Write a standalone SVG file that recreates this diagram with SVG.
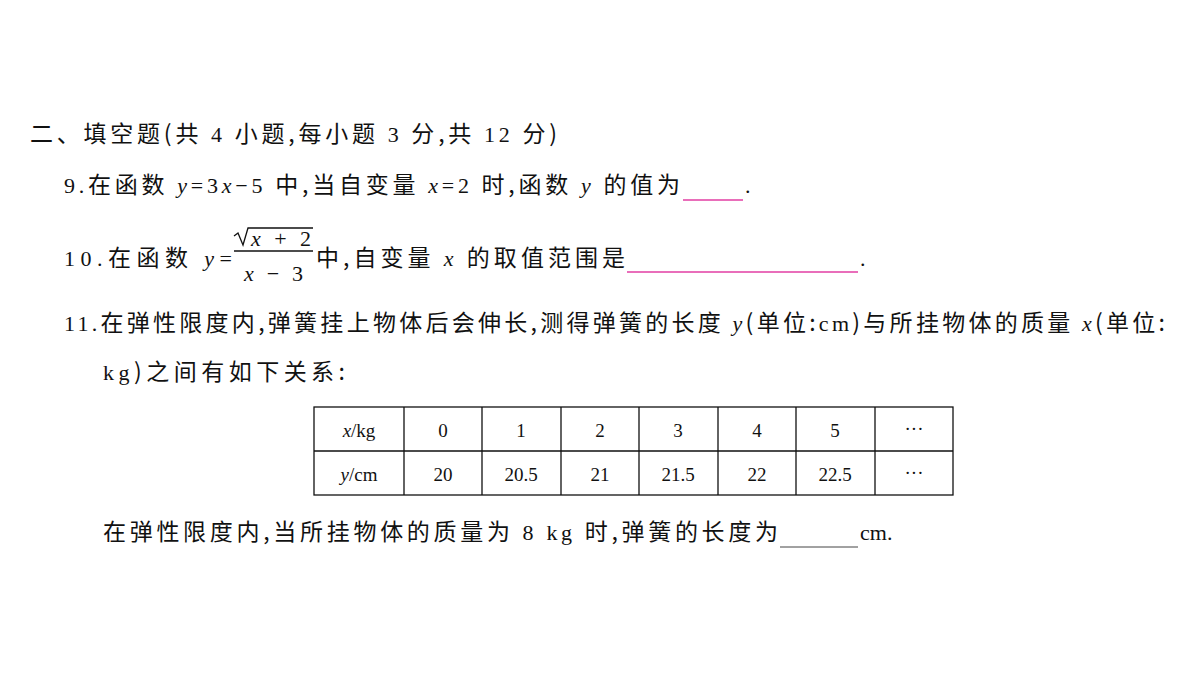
<svg xmlns="http://www.w3.org/2000/svg" width="1200" height="675" viewBox="0 0 1200 675">
<style>
text{font-family:"Liberation Serif","Noto Sans CJK SC",serif;font-size:22px;fill:#111}
.c{font-family:"Noto Sans CJK SC","Noto Sans",sans-serif;font-size:23px}
.i{font-style:italic}
.b{stroke:#e23ea3;stroke-width:1.3}
.t{stroke:#111;stroke-width:1.3;fill:none}
.m{text-anchor:middle;font-size:19px}
</style>
<rect width="1200" height="675" fill="#fff"/>
<text x="30" y="142" textLength="527" lengthAdjust="spacing"><tspan class="c">二、填空题(共 </tspan>4<tspan class="c"> 小题,每小题 </tspan>3<tspan class="c"> 分,共 </tspan>12<tspan class="c"> 分)</tspan></text>
<text x="64" y="193" textLength="616" lengthAdjust="spacing">9.<tspan class="c">在函数 </tspan><tspan class="i">y</tspan>=3<tspan class="i">x</tspan>−5<tspan class="c"> 中,当自变量 </tspan><tspan class="i">x</tspan>=2<tspan class="c"> 时,函数 </tspan><tspan class="i">y</tspan><tspan class="c"> 的值为</tspan></text>
<line class="b" x1="683" y1="200" x2="743" y2="200"/>
<text x="745" y="193">.</text>
<text x="64" y="266" textLength="168" lengthAdjust="spacing">10.<tspan class="c">在函数 </tspan><tspan class="i">y</tspan>=</text>
<path class="t" d="M234 236 L238 233 L243 245 L248 228 L313 228"/>
<text x="251" y="246" textLength="60" lengthAdjust="spacing"><tspan class="i">x</tspan>+2</text>
<line class="t" x1="234" y1="251" x2="313" y2="251"/>
<text x="244" y="281" textLength="59" lengthAdjust="spacing"><tspan class="i">x</tspan>−3</text>
<text x="316" y="266" textLength="309" lengthAdjust="spacing"><tspan class="c">中,自变量 </tspan><tspan class="i">x</tspan><tspan class="c"> 的取值范围是</tspan></text>
<line class="b" x1="627" y1="272" x2="858" y2="272"/>
<text x="860" y="266">.</text>
<text x="64" y="331" textLength="1101" lengthAdjust="spacing">11.<tspan class="c">在弹性限度内,弹簧挂上物体后会伸长,测得弹簧的长度 </tspan><tspan class="i">y</tspan><tspan class="c">(单位:</tspan>cm<tspan class="c">)与所挂物体的质量 </tspan><tspan class="i">x</tspan><tspan class="c">(单位:</tspan></text>
<text x="103" y="380" textLength="242" lengthAdjust="spacing">kg<tspan class="c">)之间有如下关系:</tspan></text>
<g id="table">
<rect class="t" x="314" y="407" width="639" height="88" stroke-width="1.8"/>
<path class="t" d="M314 451H953M404 407V495M482 407V495M561 407V495M639 407V495M718 407V495M796 407V495M875 407V495"/>
<text class="m" x="359" y="437"><tspan class="i">x</tspan>/kg</text>
<text class="m" x="443" y="437">0</text><text class="m" x="521" y="437">1</text><text class="m" x="600" y="437">2</text><text class="m" x="678" y="437">3</text><text class="m" x="757" y="437">4</text><text class="m" x="835" y="437">5</text><text class="m" x="914" y="435">···</text>
<text class="m" x="359" y="481"><tspan class="i">y</tspan>/cm</text>
<text class="m" x="443" y="481">20</text><text class="m" x="521" y="481">20.5</text><text class="m" x="600" y="481">21</text><text class="m" x="678" y="481">21.5</text><text class="m" x="757" y="481">22</text><text class="m" x="835" y="481">22.5</text><text class="m" x="914" y="479">···</text>
</g>
<text x="103" y="540" textLength="675" lengthAdjust="spacing"><tspan class="c">在弹性限度内,当所挂物体的质量为 </tspan>8 kg<tspan class="c"> 时,弹簧的长度为</tspan></text>
<line x1="780" y1="547" x2="858" y2="547" stroke="#444" stroke-width="1"/>
<text x="860" y="540">cm.</text>
</svg>
